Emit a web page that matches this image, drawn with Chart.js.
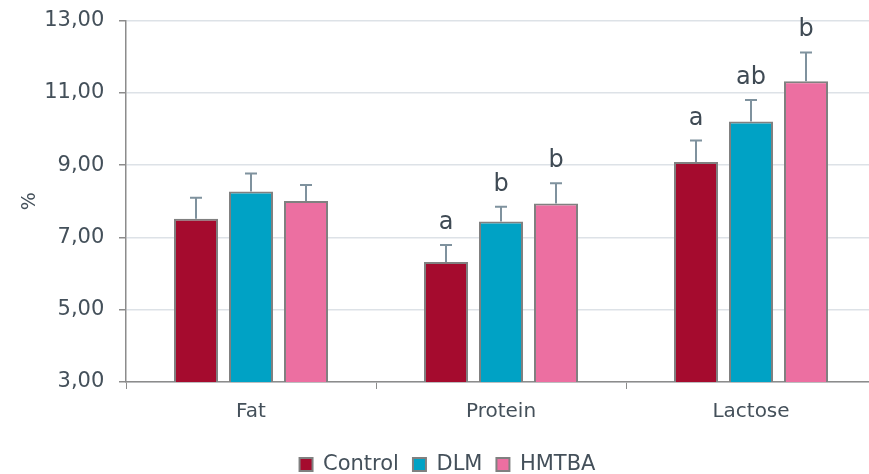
<!DOCTYPE html>
<html>
<head>
<meta charset="utf-8">
<script src="https://cdn.jsdelivr.net/npm/chart.js@4"></script>
<style>
  html, body { margin: 0; padding: 0; background: #fff; overflow: hidden; }
  #wrap { width: 869px; height: 474px; overflow: hidden; }
</style>
</head>
<body>
<div id="wrap"><canvas id="milkChart" width="880" height="474"></canvas></div>
<script>
// chart data
const categories = ['Fat', 'Protein', 'Lactose'];
const controlValues = [7.52, 6.32, 9.09];
const dlmValues = [8.27, 7.44, 10.21];
const hmtbaValues = [8.01, 7.94, 11.32];
const controlErrors = [0.58, 0.47, 0.59];
const dlmErrors = [0.50, 0.41, 0.59];
const hmtbaErrors = [0.44, 0.56, 0.80];
const controlLetters = ['', 'a', 'a'];
const dlmLetters = ['', 'b', 'ab'];
const hmtbaLetters = ['', 'b', 'b'];
const yTicks = [3, 5, 7, 9, 11, 13];

const FONT = '"DejaVu Sans", sans-serif';
const TEXT = '#44505a';

// error bars + significance letters
const errorBarPlugin = {
    id: 'errorBars',
    afterDatasetsDraw(chart) {
        const ctx = chart.ctx;
        const y = chart.scales.y;
        chart.data.datasets.forEach((ds, i) => {
            const meta = chart.getDatasetMeta(i);
            meta.data.forEach((bar, j) => {
                const top = y.getPixelForValue(ds.data[j] + ds.errors[j]);
                const base = y.getPixelForValue(ds.data[j]);
                ctx.save();
                ctx.strokeStyle = '#7f929e';
                ctx.lineWidth = 2;
                ctx.beginPath();
                ctx.moveTo(bar.x, base);
                ctx.lineTo(bar.x, top);
                ctx.moveTo(bar.x - 6, top);
                ctx.lineTo(bar.x + 6, top);
                ctx.stroke();
                if (ds.letters[j]) {
                    ctx.fillStyle = '#3f4a54';
                    ctx.font = '24px ' + FONT;
                    ctx.textAlign = 'center';
                    ctx.textBaseline = 'alphabetic';
                    ctx.fillText(ds.letters[j], bar.x, top - 16);
                }
                ctx.restore();
            });
        });
    }
};

new Chart(document.getElementById('milkChart'), {
    type: 'bar',
    data: {
        labels: categories,
        datasets: [
            { label: 'Control', data: controlValues, errors: controlErrors, letters: controlLetters,
              backgroundColor: '#a50b2e', borderColor: '#808080', borderWidth: 2 },
            { label: 'DLM', data: dlmValues, errors: dlmErrors, letters: dlmLetters,
              backgroundColor: '#00a2c5', borderColor: '#808080', borderWidth: 2 },
            { label: 'HMTBA', data: hmtbaValues, errors: hmtbaErrors, letters: hmtbaLetters,
              backgroundColor: '#ec6fa1', borderColor: '#808080', borderWidth: 2 }
        ]
    },
    options: {
        responsive: false,
        animation: false,
        categoryPercentage: 0.66,
        barPercentage: 0.8,
        layout: { padding: { left: 19, right: 4, top: 5, bottom: -11 } },
        plugins: {
            legend: {
                position: 'bottom',
                labels: {
                    boxWidth: 13,
                    boxHeight: 13,
                    padding: 14,
                    color: TEXT,
                    font: { family: FONT, size: 21 }
                }
            },
            tooltip: { enabled: false }
        },
        scales: {
            x: {
                grid: {
                    drawOnChartArea: false,
                    color: '#8c8c8c',
                    tickLength: 7
                },
                border: { color: '#8c8c8c', width: 1.5 },
                ticks: {
                    color: TEXT,
                    padding: 11,
                    font: { family: FONT, size: 20 }
                },
                afterFit: (axis) => { axis.height = 58; }
            },
            y: {
                min: 3,
                max: 13,
                afterBuildTicks: (axis) => { axis.ticks = yTicks.map(v => ({ value: v })); },
                afterFit: (axis) => { axis.width = 107; },
                grid: {
                    color: '#dde2e7',
                    lineWidth: 1.5,
                    tickColor: '#8c8c8c',
                    tickLength: 7
                },
                border: { color: '#8c8c8c', width: 1.5 },
                title: {
                    display: true,
                    text: '%',
                    color: TEXT,
                    padding: 0,
                    font: { family: FONT, size: 19 }
                },
                ticks: {
                    color: TEXT,
                    padding: 8,
                    font: { family: FONT, size: 21 },
                    // trailing nbsp keeps labels clear of the tick marks
                    callback: (v) => v.toFixed(2).replace('.', ',') + '\u00a0'
                }
            }
        }
    },
    plugins: [errorBarPlugin]
});
</script>
</body>
</html>
